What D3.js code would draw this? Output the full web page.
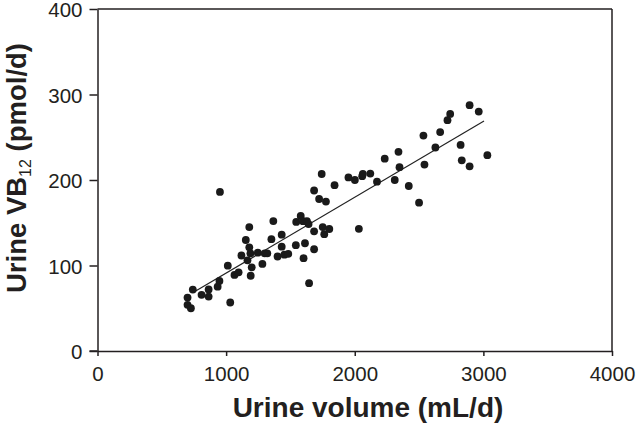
<!DOCTYPE html>
<html><head><meta charset="utf-8">
<script src="https://cdn.jsdelivr.net/npm/d3@7"></script>
<style>body{margin:0;background:#fff}svg{display:block}</style>
</head><body>
<script>
const volume = [700,700,726,741,809,864,864,934,948,952,1013,1032,1065,1097,1119,1153,1166,1180,1180,1189,1199,1191,1246,1282,1300,1320,1352,1367,1400,1432,1432,1453,1483,1542,1545,1580,1598,1602,1613,1628,1641,1645,1684,1684,1684,1723,1743,1751,1763,1776,1802,1843,1951,2001,2032,2058,2063,2121,2173,2233,2311,2340,2348,2420,2500,2534,2542,2627,2664,2721,2742,2823,2832,2893,2893,2964,3031];
const vb12 = [62.5,54,50,71.8,65.7,72,63.7,75.2,82,186,99.8,56.7,89,92,111.7,129.8,106,145,121.3,114.2,97.9,88,115,101.8,114.2,114.2,130.8,152,110.5,136,122,112.7,113.6,123.8,151,157.9,151.8,108.6,126,151.8,148.5,79.3,140,119,187.7,177.8,207,145,136.6,174.8,142.7,194,203,200,142.9,204.5,207,207.5,198,225,200,233,215,193,173.5,252,218,238,256,270,277.3,241,223,287.5,216,280,229];
const fitX = [750, 3005];
const fitY = [69, 269];
const xTicks = [0,1000,2000,3000,4000];
const yTicks = [0,100,200,300,400];

const W = 637, H = 424;
const svg = d3.select("body").append("svg").attr("width", W).attr("height", H);
const x = d3.scaleLinear().domain([0,4000]).range([97.5,612]);
const y = d3.scaleLinear().domain([0,400]).range([351,9]);
const font = "'Liberation Sans', Arial, sans-serif";
const axCol = "#231f20";

// frame top & right
svg.append("line").attr("x1",x(0)).attr("x2",x(4000)).attr("y1",y(400)).attr("y2",y(400)).attr("stroke",axCol).attr("stroke-width",1.5);
svg.append("line").attr("x1",x(4000)).attr("x2",x(4000)).attr("y1",y(400)).attr("y2",y(0)).attr("stroke",axCol).attr("stroke-width",1.5);

const fmt = d3.format("d");
const xa = svg.append("g").attr("transform",`translate(0,${y(0)})`)
  .call(d3.axisBottom(x).tickValues(xTicks).tickFormat(fmt).tickSize(5).tickPadding(10).tickSizeOuter(0));
const ya = svg.append("g").attr("transform",`translate(${x(0)},0)`)
  .call(d3.axisLeft(y).tickValues(yTicks).tickFormat(fmt).tickSize(8).tickPadding(7).tickSizeOuter(0));
[xa,ya].forEach(g=>{
  g.select(".domain").attr("stroke",axCol).attr("stroke-width",1.5);
  g.selectAll(".tick line").attr("stroke",axCol).attr("stroke-width",1.5);
  g.selectAll(".tick text").attr("font-family",font).attr("font-size",20.5).attr("fill",axCol);
});
ya.selectAll(".tick text").attr("dy","0.37em");
// extend x-axis line left to meet the 0 tick of y
svg.append("line").attr("x1",x(0)-8).attr("x2",x(0)).attr("y1",y(0)).attr("y2",y(0)).attr("stroke",axCol).attr("stroke-width",1.5);

// fit line
svg.append("line").attr("x1",x(fitX[0])).attr("y1",y(fitY[0])).attr("x2",x(fitX[1])).attr("y2",y(fitY[1]))
  .attr("stroke","#222").attr("stroke-width",1.2);

// points
svg.append("g").selectAll("circle").data(volume.map((v,i)=>[v,vb12[i]])).join("circle")
  .attr("cx",d=>x(d[0])).attr("cy",d=>y(d[1])).attr("r",3.9).attr("fill","#1a1a1a");

// titles
svg.append("text").attr("x",368).attr("y",416.5).attr("text-anchor","middle")
  .attr("font-family",font).attr("font-weight","bold").attr("font-size",28).attr("fill",axCol)
  .text("Urine volume (mL/d)");
const yt = svg.append("text").attr("transform","translate(26,168) rotate(-90)").attr("text-anchor","middle")
  .attr("font-family",font).attr("font-weight","bold").attr("font-size",27.5).attr("fill",axCol);
yt.append("tspan").text("Urine VB");
yt.append("tspan").attr("font-size",16).attr("font-weight","normal").attr("dy",5).text("12");
yt.append("tspan").attr("dy",-5).text("\u00a0(pmol/d)");
</script>
</body></html>
